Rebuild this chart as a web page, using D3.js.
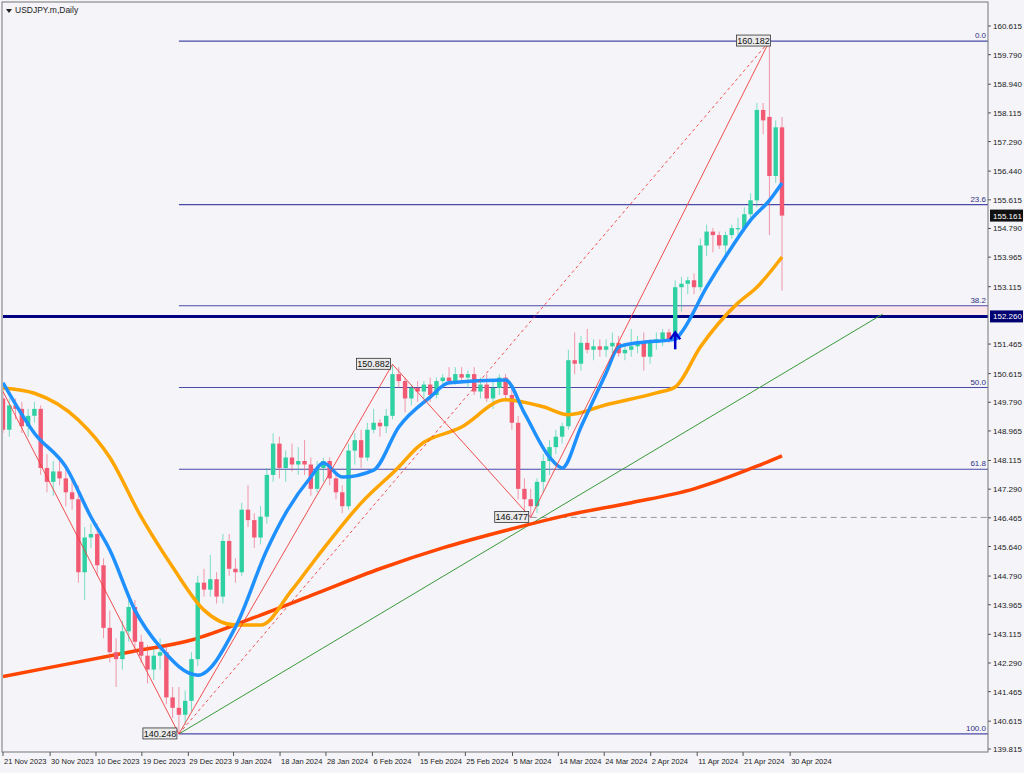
<!DOCTYPE html>
<html><head><meta charset="utf-8">
<script src="https://cdn.jsdelivr.net/npm/d3@7/dist/d3.min.js"></script>
<style>body{margin:0;background:#f4f4f9;}svg{display:block;font-family:"Liberation Sans",Arial,sans-serif;}</style>
</head><body><svg id="c" width="1024" height="773"></svg>
<script>
const ohlc=[[149.9,150.2,148.9,149.0],[149.0,149.9,148.8,149.7],[149.7,149.9,149.3,149.6],[149.6,149.8,148.9,149.1],[149.1,149.6,148.8,149.4],[149.4,149.8,149.2,149.6],[149.6,149.7,147.7,147.9],[147.9,148.3,147.2,147.5],[147.5,148.1,147.1,147.8],[147.8,148.2,147.4,147.6],
[147.6,148.0,146.8,147.2],[147.2,147.6,146.7,147.0],[147.0,147.4,144.6,144.9],[144.9,146.2,144.1,145.9],[145.9,146.3,145.6,146.0],[146.0,146.3,144.8,145.1],[145.1,145.3,143.0,143.3],[143.3,143.8,142.3,142.6],[142.6,143.0,141.6,142.4],[142.4,143.5,142.1,143.2],
[143.2,144.1,142.9,143.9],[143.9,144.1,142.6,142.9],[142.9,143.1,142.3,142.5],[142.5,142.8,141.7,142.1],[142.1,142.7,141.8,142.5],[142.5,143.0,142.1,142.6],[142.6,142.8,141.1,141.3],[141.3,141.6,140.7,141.0],[141.0,141.6,140.248,140.8],[140.8,141.5,140.5,141.2],
[141.2,142.6,140.9,142.4],[142.4,144.8,142.2,144.6],[144.6,145.0,144.2,144.4],[144.4,145.4,144.2,144.7],[144.7,144.9,144.0,144.2],[144.2,146.0,144.0,145.8],[145.8,146.0,144.8,145.0],[145.0,145.3,144.6,144.9],[144.9,146.9,144.8,146.7],[146.7,147.4,146.2,146.4],
[146.4,146.6,145.6,145.9],[145.9,146.8,145.7,146.5],[146.5,147.9,146.3,147.7],[147.7,148.9,147.5,148.6],[148.6,148.8,147.6,147.9],[147.9,148.4,147.5,148.2],[148.2,148.6,147.8,148.0],[148.0,148.5,147.7,148.1],[148.1,148.7,147.7,148.0],[148.0,148.2,147.1,147.3],
[147.3,148.1,147.2,147.9],[147.9,148.2,147.5,148.1],[148.1,148.2,147.4,147.6],[147.6,147.8,147.0,147.2],[147.2,147.4,146.6,146.8],[146.8,148.6,146.7,148.4],[148.4,148.9,148.0,148.7],[148.7,149.0,147.9,148.2],[148.2,149.2,148.1,149.0],[149.0,149.6,148.9,149.2],
[149.2,149.3,148.8,149.1],[149.1,149.6,148.9,149.4],[149.4,150.882,149.3,150.6],[150.6,150.8,150.2,150.4],[150.4,150.5,149.5,149.9],[149.9,150.3,149.7,150.2],[150.2,150.4,149.8,150.1],[150.1,150.4,149.9,150.3],[150.3,150.5,149.8,150.0],[150.0,150.5,149.9,150.4],
[150.4,150.6,150.2,150.5],[150.5,150.8,150.3,150.4],[150.4,150.8,150.3,150.6],[150.6,150.8,150.4,150.5],[150.5,150.7,150.2,150.6],[150.6,150.8,150.0,150.1],[150.1,150.5,149.9,150.3],[150.3,150.6,149.8,149.9],[149.9,150.4,149.6,150.2],[150.2,150.6,150.0,150.5],
[150.5,150.6,149.9,150.0],[150.0,150.2,149.0,149.2],[149.2,149.4,147.0,147.3],[147.3,147.6,146.6,147.0],[147.0,147.3,146.477,146.8],[146.8,147.6,146.6,147.5],[147.5,148.3,147.2,148.1],[148.1,148.7,147.7,148.5],[148.5,149.0,148.3,148.8],[148.8,149.2,148.6,149.1],
[149.1,151.3,149.0,151.0],[151.0,151.8,150.6,150.9],[150.9,151.7,150.7,151.5],[151.5,151.9,151.2,151.3],[151.3,151.6,151.0,151.4],[151.4,151.6,151.1,151.3],[151.3,151.6,151.1,151.4],[151.4,151.8,151.2,151.5],[151.5,151.7,151.1,151.2],[151.2,151.5,151.0,151.3],
[151.3,151.9,151.1,151.4],[151.4,151.7,151.2,151.5],[151.5,151.8,150.7,151.1],[151.1,151.6,150.9,151.5],[151.5,151.8,151.3,151.6],[151.6,151.9,151.4,151.8],[151.8,151.9,151.5,151.6],[151.6,153.3,151.3,153.1],[153.1,153.4,152.4,153.2],[153.2,153.4,152.9,153.3],
[153.3,153.5,152.9,153.1],[153.1,154.5,153.0,154.3],[154.3,154.9,154.0,154.7],[154.7,154.8,154.1,154.6],[154.6,154.7,154.2,154.3],[154.3,154.7,154.0,154.6],[154.6,154.9,154.5,154.8],[154.8,155.1,154.6,154.8],[154.8,155.4,154.7,155.2],[155.2,155.8,155.0,155.6],
[155.6,158.4,155.4,158.2],[158.2,158.4,157.5,157.9],[158.0,160.182,154.6,156.3],[156.3,157.9,156.1,157.7],[157.7,158.0,153.0,155.161]];
const maFast=[[0,150.35],[5,148.9],[10,147.93],[14,146.49],[17,145.54],[21,143.81],[25,142.75],[31,141.94],[37,143.32],[42,145.54],[45,146.6],[49,147.64],[51,148.04],[54,147.64],[59,147.84],[63,149.08],[68,149.94],[71,150.35],[80,150.43],[83,149.48],[87,148.21],[89,147.9],[92,149.08],[96,150.63],[98,151.38],[101,151.5],[107,151.6],[108,151.8],[112,153.1],[116,154.25],[119,155.03],[122,155.6],[124,156.1]];
const maMid=[[0,150.2],[5,150.05],[12,149.28],[17,148.2],[22,146.49],[27,145.05],[32,143.81],[37,143.38],[41,143.38],[46,144.39],[50,145.34],[57,146.89],[63,147.93],[66,148.5],[73,149.08],[80,149.86],[86,149.66],[90,149.43],[96,149.72],[104,150.06],[107,150.23],[111,151.38],[117,152.65],[120,153.1],[124,153.97]];
const maSlow=[[0,141.9],[10,142.25],[20,142.6],[30,142.95],[40,143.6],[50,144.3],[60,145.0],[70,145.6],[80,146.1],[90,146.55],[100,146.9],[110,147.3],[120,147.95],[124,148.25]];
const zigzag=[[0,150.1],[28,140.248],[62,150.882],[84,146.477],[122,160.182]];
const fibLevels=[0,23.6,38.2,50.0,61.8,100.0];
const fibHigh=160.182, fibLow=140.248;
const supportLevel=152.260, lastPrice=155.161, dashLevel=146.477;
const trendA=[28,140.248], trendB=[124,150.6];
const priceTicks=["160.615","159.790","158.940","158.115","157.290","156.440","155.615","154.790","153.965","153.115","151.465","150.615","149.790","148.965","148.115","147.290","146.465","145.640","144.790","143.965","143.115","142.290","141.465","140.615","139.815"];
const dateTicks=[[0,"21 Nov 2023"],[7.5,"30 Nov 2023"],[14.8,"10 Dec 2023"],[22.1,"19 Dec 2023"],[29.5,"29 Dec 2023"],[36.7,"9 Jan 2024"],[44.1,"18 Jan 2024"],[51.4,"28 Jan 2024"],[58.8,"6 Feb 2024"],[66.2,"15 Feb 2024"],[73.6,"25 Feb 2024"],[81.1,"5 Mar 2024"],[88.4,"14 Mar 2024"],[95.7,"24 Mar 2024"],[103.1,"2 Apr 2024"],[110.5,"11 Apr 2024"],[117.8,"21 Apr 2024"],[125.3,"30 Apr 2024"]];

const svg=d3.select("#c");
const R=988,B=752;
const x=d3.scaleLinear().domain([0,124]).range([3,782]);
const y=d3.scaleLinear().domain([139.815,160.615]).range([749,26]);
svg.append("rect").attr("x",0).attr("y",0).attr("width",1024).attr("height",773).attr("fill","#f4f4f9");
const g=svg.append("g");
g.append("defs").append("clipPath").attr("id","cp").append("rect").attr("x",3).attr("y",3).attr("width",R-3).attr("height",B-3);
const p=g.append("g").attr("clip-path","url(#cp)");
const f382=fibHigh-(fibHigh-fibLow)*0.382;
p.append("rect").attr("x",x(107)).attr("width",x(185)-x(107)).attr("y",y(f382)).attr("height",y(supportLevel)-y(f382)).attr("fill","#fbe6ec");
fibLevels.forEach(l=>{const v=fibHigh-(fibHigh-fibLow)*l/100;
 p.append("line").attr("x1",x(28)).attr("x2",R).attr("y1",y(v)).attr("y2",y(v)).attr("stroke","#4a4aa8").attr("stroke-width",1.2);
 g.append("text").attr("x",R-2).attr("y",y(v)-3).attr("text-anchor","end").attr("font-size",8).attr("fill","#303080").text(l.toFixed(1));});
p.append("line").attr("x1",x(84)).attr("x2",R).attr("y1",y(dashLevel)).attr("y2",y(dashLevel)).attr("stroke","#999").attr("stroke-dasharray","6,4");
p.append("line").attr("x1",0).attr("x2",R).attr("y1",y(supportLevel)).attr("y2",y(supportLevel)).attr("stroke","#000080").attr("stroke-width",3);
const slope=(trendB[1]-trendA[1])/(trendB[0]-trendA[0]);
p.append("line").attr("x1",x(trendA[0])).attr("y1",y(trendA[1])).attr("x2",x(140)).attr("y2",y(trendA[1]+slope*(140-trendA[0]))).attr("stroke","#3a9a3a").attr("stroke-width",1);
const ln=d3.line().x(d=>x(d[0])).y(d=>y(d[1])).curve(d3.curveMonotoneX);
p.append("path").attr("d",ln(maSlow)).attr("fill","none").attr("stroke","#ff4500").attr("stroke-width",3.5);
ohlc.forEach((d,i)=>{const up=d[3]>=d[0];const col=up?"#2fd0a2":"#f25a74";
 p.append("line").attr("x1",x(i)).attr("x2",x(i)).attr("y1",y(d[1])).attr("y2",y(d[2])).attr("stroke",col).attr("stroke-width",1).attr("opacity",0.6);
 const t=y(Math.max(d[0],d[3])),b=y(Math.min(d[0],d[3]));
 p.append("rect").attr("x",x(i)-2.2).attr("width",4.4).attr("y",t).attr("height",Math.max(1.2,b-t)).attr("fill",col);});
p.append("path").attr("d",ln(maMid)).attr("fill","none").attr("stroke","#ffa500").attr("stroke-width",3.5);
p.append("path").attr("d",ln(maFast)).attr("fill","none").attr("stroke","#1e90ff").attr("stroke-width",3.5);
p.append("path").attr("d",d3.line().x(d=>x(d[0])).y(d=>y(d[1]))(zigzag)).attr("fill","none").attr("stroke","#f03c3c").attr("stroke-width",0.9);
p.append("line").attr("x1",x(zigzag[1][0])).attr("y1",y(zigzag[1][1])).attr("x2",x(zigzag[4][0])).attr("y2",y(zigzag[4][1])).attr("stroke","#f03c3c").attr("stroke-dasharray","3,3").attr("stroke-width",0.9);
const ax=x(107),ay=y(151.6);
p.append("path").attr("d",`M${ax},${ay+10}V${ay-6}M${ax-5},${ay}L${ax},${ay-7}L${ax+5},${ay}`).attr("stroke","#0000cc").attr("stroke-width",2.5).attr("fill","none");
[[zigzag[4],"160.182",-33,-6],[zigzag[2],"150.882",-36,-6],[zigzag[3],"146.477",-36,-6],[zigzag[1],"140.248",-36,-6]].forEach(([d,t,dx,dy])=>{
 const lx=x(d[0])+dx,ly=y(d[1])+dy;
 g.append("rect").attr("x",lx).attr("y",ly).attr("width",34).attr("height",11).attr("fill","#eaeaea").attr("stroke","#333").attr("stroke-width",0.8);
 g.append("text").attr("x",lx+17).attr("y",ly+9).attr("text-anchor","middle").attr("font-size",9).attr("fill","#111").text(t);});
g.append("rect").attr("x",2).attr("y",2).attr("width",R-2).attr("height",B-2).attr("fill","none").attr("stroke","#777");
priceTicks.forEach(t=>{const v=+t;g.append("line").attr("x1",R).attr("x2",R+3).attr("y1",y(v)).attr("y2",y(v)).attr("stroke","#555");
 g.append("text").attr("x",R+5).attr("y",y(v)+3).attr("font-size",8).attr("fill","#222").text(t);});
[[supportLevel,"#000070"],[lastPrice,"#111"]].forEach(([v,c])=>{g.append("rect").attr("x",R+2).attr("y",y(v)-6).attr("width",33).attr("height",12).attr("fill",c);
 g.append("text").attr("x",R+5).attr("y",y(v)+3).attr("font-size",8).attr("fill","#fff").text(v.toFixed(3));});
dateTicks.forEach(([i,t])=>{const px=x(i);g.append("line").attr("x1",px).attr("x2",px).attr("y1",B).attr("y2",B+4).attr("stroke","#555");
 g.append("text").attr("x",px+1).attr("y",B+12).attr("font-size",7.5).attr("fill","#222").text(t);});
g.append("path").attr("d","M6,9L12,9L9,13Z").attr("fill","#222");
g.append("text").attr("x",15).attr("y",13).attr("font-size",8.5).attr("fill","#222").text("USDJPY.m,Daily");
</script></body></html>
